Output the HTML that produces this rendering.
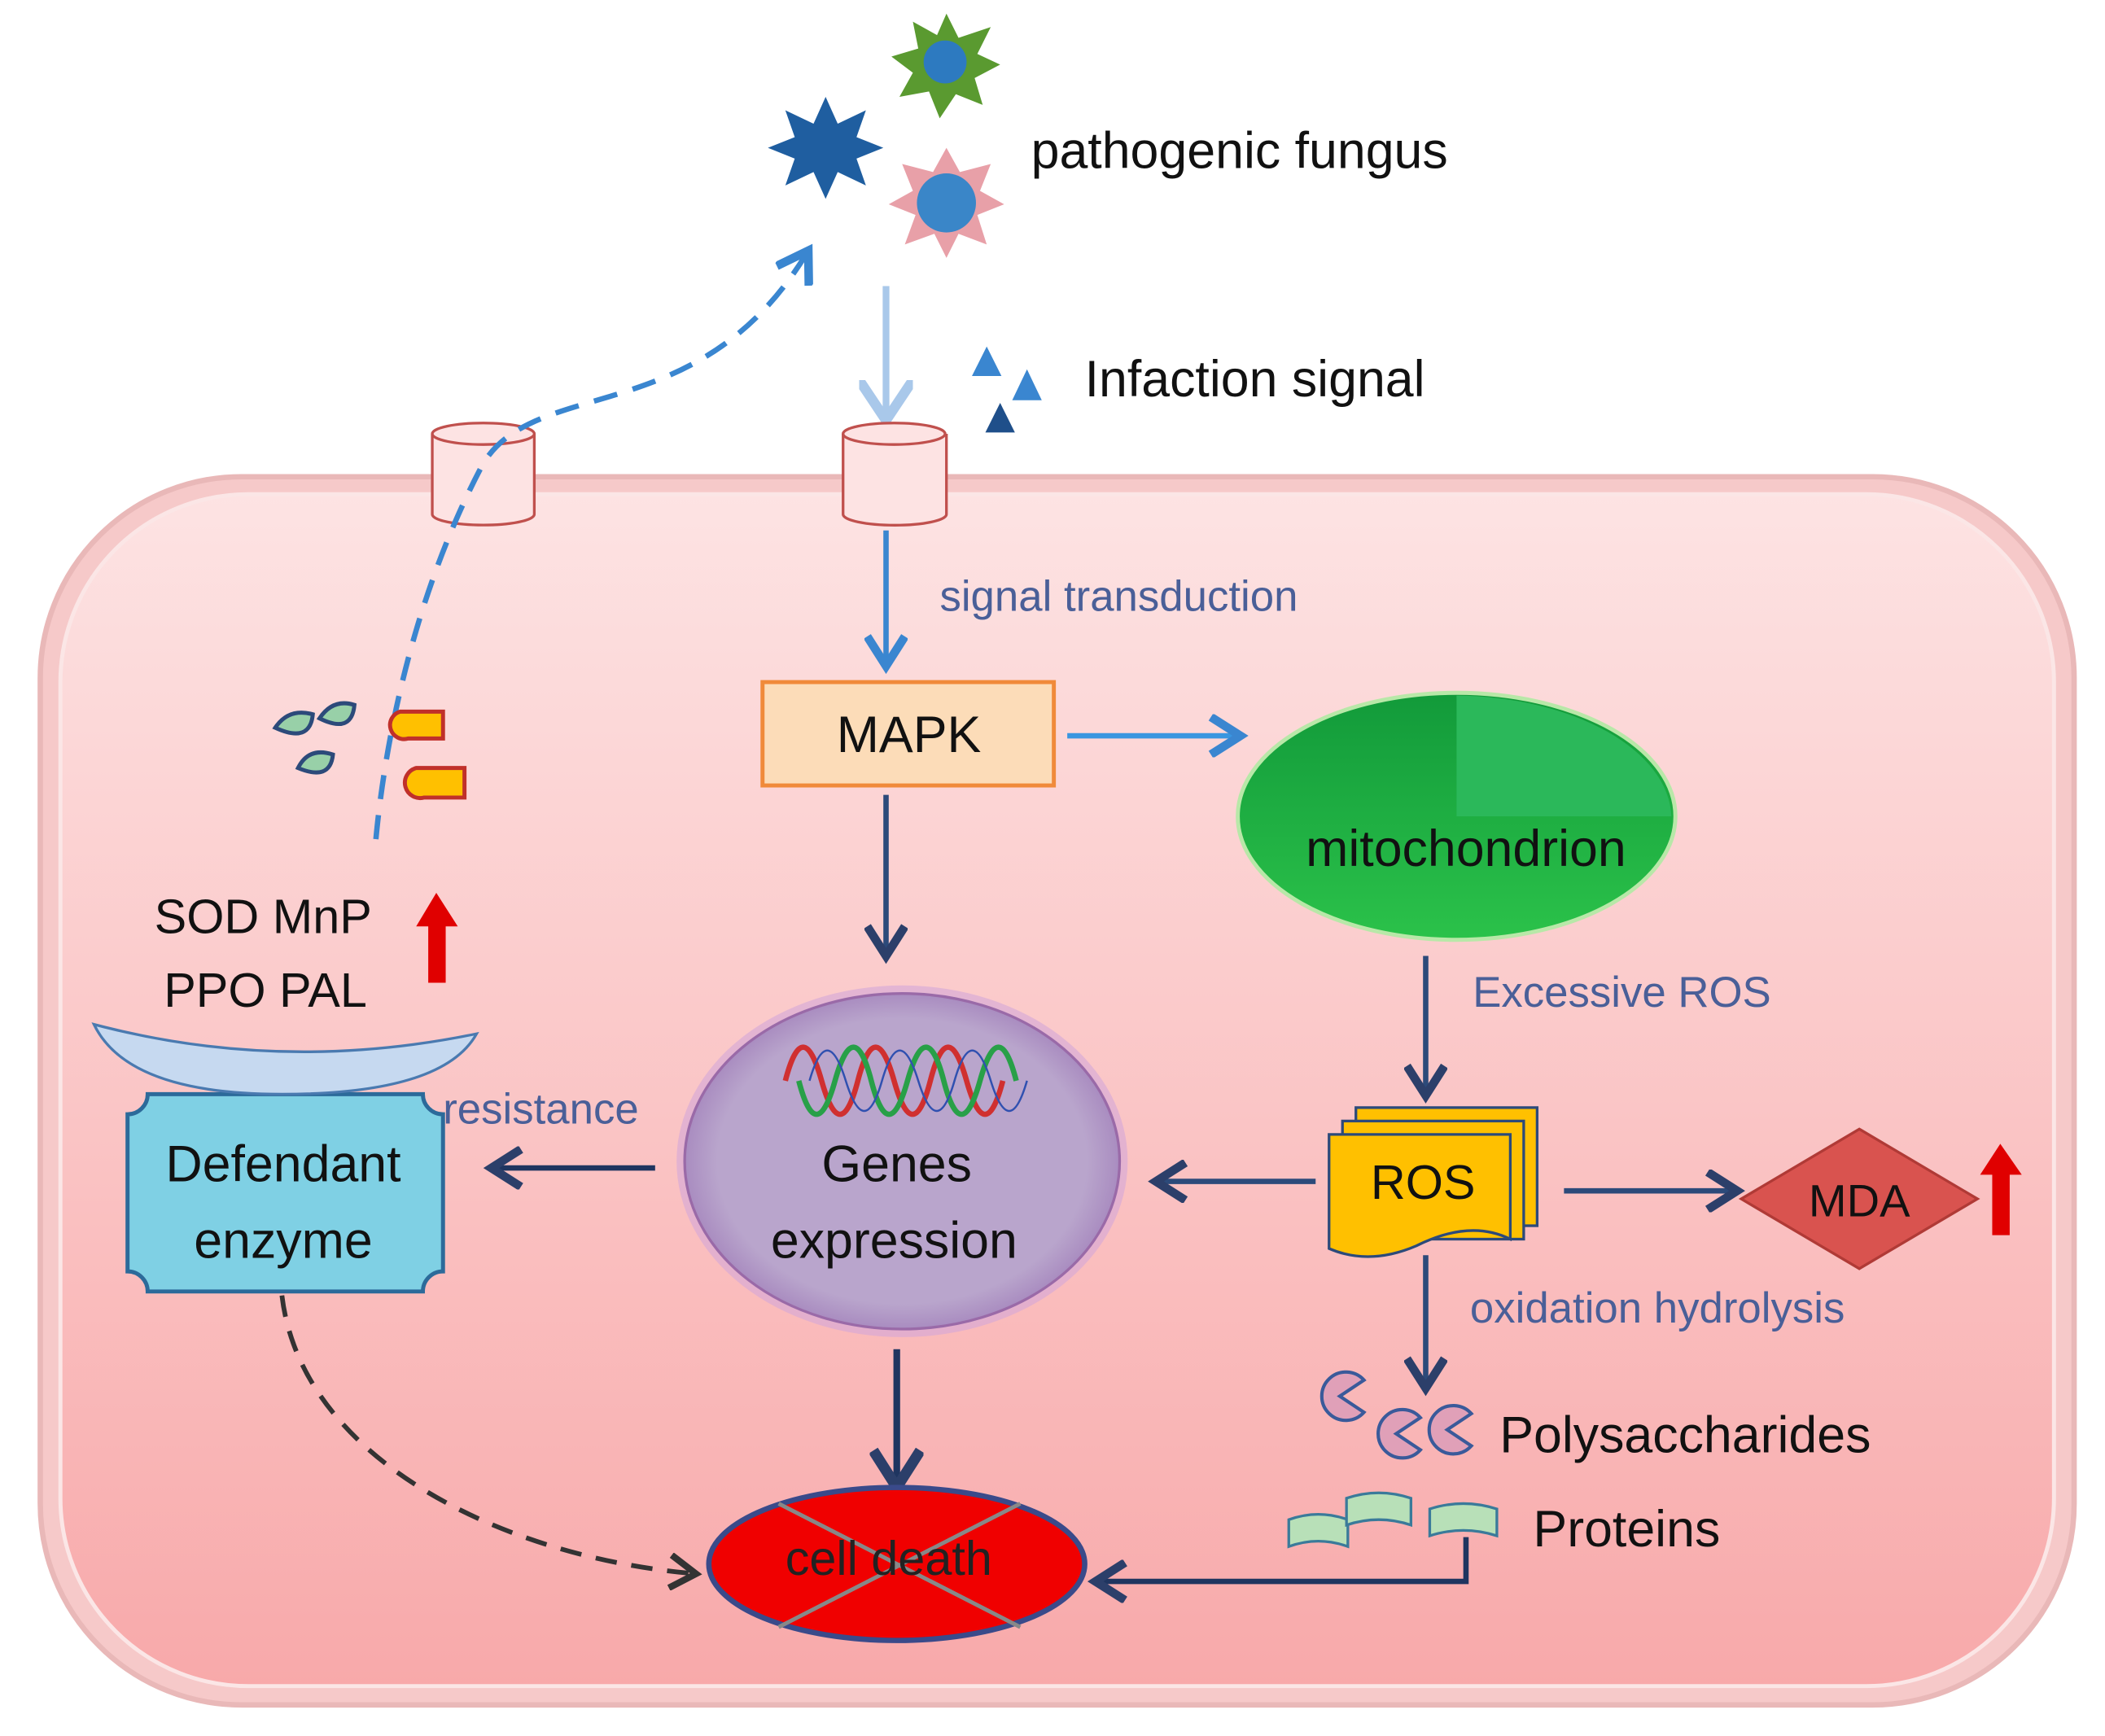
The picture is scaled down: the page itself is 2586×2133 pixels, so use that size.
<!DOCTYPE html>
<html><head><meta charset="utf-8"><style>
html,body{margin:0;padding:0;background:#fff}
svg{display:block}
text{font-family:"Liberation Sans","DejaVu Sans",sans-serif}
</style></head><body>
<svg width="2586" height="2133" viewBox="0 0 1568 1293" xmlns="http://www.w3.org/2000/svg">
<defs>
<linearGradient id="cell" x1="0" y1="0" x2="0" y2="1">
<stop offset="0" stop-color="#fde3e3"/><stop offset="1" stop-color="#f8a9aa"/></linearGradient>
<linearGradient id="mito" x1="0" y1="0" x2="0" y2="1">
<stop offset="0" stop-color="#129a3a"/><stop offset="1" stop-color="#2bc24a"/></linearGradient>
<radialGradient id="genes" cx="0.5" cy="0.5" r="0.5">
<stop offset="0.85" stop-color="#b9a5cc"/><stop offset="1" stop-color="#a98cc0"/></radialGradient>
<marker id="ab" markerWidth="8" markerHeight="8" refX="5" refY="4" orient="auto" markerUnits="strokeWidth">
<path d="M0,0 L6,4 L0,8" fill="none" stroke="#a9c8ea" stroke-width="1.5"/></marker>
<marker id="ad" markerWidth="8" markerHeight="8" refX="5" refY="4" orient="auto" markerUnits="strokeWidth">
<path d="M0.5,0.5 L6,4 L0.5,7.5" fill="none" stroke="#2c3f6a" stroke-width="1.6"/></marker>
<marker id="al" markerWidth="8" markerHeight="8" refX="5" refY="4" orient="auto" markerUnits="strokeWidth">
<path d="M0.5,0.5 L6,4 L0.5,7.5" fill="none" stroke="#3a86d0" stroke-width="1.6"/></marker>
<marker id="ak" markerWidth="8" markerHeight="8" refX="5" refY="4" orient="auto" markerUnits="strokeWidth">
<path d="M0.5,0.5 L6,4 L0.5,7.5" fill="none" stroke="#333" stroke-width="1.4"/></marker>
</defs>

<rect x="30" y="355" width="1515" height="915" rx="150" fill="#f6c9c9" stroke="#e9b8b8" stroke-width="4"/>
<rect x="45" y="368" width="1485" height="888" rx="140" fill="url(#cell)" stroke="#fbe6e6" stroke-width="3"/>

<g>
<polygon points="615,72 624,92 645,82 638,102 658,110 638,118 645,138 624,128 615,148 606,128 585,138 592,118 572,110 592,102 585,82 606,92" fill="#1f5ea0"/>
<polygon points="705,10 714,28 738,20 728,40 745,48 726,58 732,78 712,70 700,88 692,68 670,72 680,54 664,42 684,36 680,16 698,26" fill="#5a9a30"/>
<circle cx="704" cy="46" r="16" fill="#2d7ac0"/>
<polygon points="705,110 715,128 738,122 730,142 748,152 728,160 735,182 714,174 705,192 696,174 674,182 682,160 662,152 680,142 672,122 695,128" fill="#e8a0a8"/>
<circle cx="705" cy="151" r="22" fill="#3a86c8"/>
</g>
<text x="768" y="125" font-size="38" fill="#111">pathogenic fungus</text>

<polygon points="735,258 724,280 746,280" fill="#3a86d0"/>
<polygon points="765,275 754,298 776,298" fill="#3a86d0"/>
<polygon points="745,300 734,322 756,322" fill="#1f4f8a"/>
<text x="808" y="295" font-size="38" fill="#111">Infaction signal</text>
<line x1="660" y1="213" x2="660" y2="308" stroke="#a9c8ea" stroke-width="5" marker-end="url(#ab)"/>

<g fill="#fde3e3" stroke="#c0504d" stroke-width="2">
<path d="M322,323 v60 a38,8 0 0 0 76,0 v-60"/>
<ellipse cx="360" cy="323" rx="38" ry="8"/>
<path d="M628,323 v60 a38,8 0 0 0 77,0 v-60"/>
<ellipse cx="666" cy="323" rx="38" ry="8"/>
</g>

<path d="M280,625 C290,520 320,420 360,345 C400,280 520,320 600,190" fill="none" stroke="#3a86d0" stroke-width="4" stroke-dasharray="18,12" marker-end="url(#al)"/>

<line x1="660" y1="395" x2="660" y2="492" stroke="#3a86d0" stroke-width="4" marker-end="url(#al)"/>
<text x="700" y="455" font-size="32" fill="#4a5f98">signal transduction</text>

<rect x="568" y="508" width="217" height="77" fill="#fcdcb8" stroke="#f08a3a" stroke-width="3"/>
<text x="677" y="560" font-size="38" text-anchor="middle" fill="#111">MAPK</text>
<line x1="795" y1="548" x2="920" y2="548" stroke="#3a96e0" stroke-width="4" marker-end="url(#al)"/>

<ellipse cx="1085" cy="608" rx="163" ry="92" fill="url(#mito)" stroke="#b8e8a8" stroke-width="3"/>
<path d="M1085,518 L1085,608 L1245,608 A163,92 0 0 0 1085,518 Z" fill="#2bb85a"/>
<text x="1092" y="645" font-size="38" text-anchor="middle" fill="#111">mitochondrion</text>

<line x1="660" y1="592" x2="660" y2="708" stroke="#2c4a7a" stroke-width="4" marker-end="url(#ad)"/>
<line x1="1062" y1="712" x2="1062" y2="812" stroke="#2c4a7a" stroke-width="4" marker-end="url(#ad)"/>
<text x="1097" y="750" font-size="32" fill="#4a5f98">Excessive ROS</text>

<ellipse cx="672" cy="865" rx="168" ry="131" fill="#d3a7d8" opacity="0.6"/>
<ellipse cx="672" cy="865" rx="162" ry="125" fill="url(#genes)" stroke="#9a6aa8" stroke-width="2"/>
<g fill="none" stroke-width="4">
<path d="M585,805 q13,-50 27,0 t27,0 t27,0 t27,0 t27,0 t27,0" stroke="#d03030"/>
<path d="M585,805 q13,50 27,0 t27,0 t27,0 t27,0 t27,0 t27,0" stroke="#28a048" transform="translate(10,0)"/>
<path d="M585,805 q13,-45 27,0 t27,0 t27,0 t27,0 t27,0 t27,0" stroke="#3050b0" stroke-width="1.5" transform="translate(18,0)"/>
</g>
<text x="668" y="880" font-size="38" text-anchor="middle" fill="#111">Genes</text>
<text x="666" y="937" font-size="38" text-anchor="middle" fill="#111">expression</text>

<g stroke="#2c4a7a" stroke-width="2" fill="#ffc000">
<rect x="1010" y="825" width="135" height="88"/>
<rect x="1000" y="835" width="135" height="88"/>
<path d="M990,845 h135 v78 q-30,-15 -70,5 q-35,15 -65,2 z"/>
</g>
<text x="1060" y="893" font-size="36" text-anchor="middle" fill="#111">ROS</text>
<line x1="980" y1="880" x2="865" y2="880" stroke="#2c4a7a" stroke-width="4" marker-end="url(#ad)"/>
<line x1="1165" y1="887" x2="1290" y2="887" stroke="#2c4a7a" stroke-width="4" marker-end="url(#ad)"/>

<polygon points="1297,893 1385,841 1473,893 1385,945" fill="#d9534f" stroke="#b03a36" stroke-width="2"/>
<text x="1385" y="906" font-size="34" text-anchor="middle" fill="#111">MDA</text>
<polygon points="1484,920 1497,920 1497,875 1506,875 1490,852 1475,875 1484,875" fill="#e00000"/>

<line x1="1062" y1="935" x2="1062" y2="1030" stroke="#2c4a7a" stroke-width="4" marker-end="url(#ad)"/>
<text x="1095" y="985" font-size="32" fill="#4a5f98">oxidation hydrolysis</text>

<g fill="#e0a0b8" stroke="#3a5a9a" stroke-width="2.5">
<path d="M998,1040 L1016,1028 A18,18 0 1 0 1016,1052 Z"/>
<path d="M1040,1068 L1058,1056 A18,18 0 1 0 1058,1080 Z"/>
<path d="M1078,1065 L1096,1053 A18,18 0 1 0 1096,1077 Z"/>
</g>
<text x="1117" y="1082" font-size="38" fill="#111">Polysaccharides</text>
<g fill="#b8e0b8" stroke="#3a7a9a" stroke-width="2">
<path d="M960,1132 q22,-8 44,0 v20 q-22,-8 -44,0 z"/>
<path d="M1003,1116 q24,-8 48,0 v20 q-24,-8 -48,0 z"/>
<path d="M1065,1124 q25,-8 50,0 v20 q-25,-8 -50,0 z"/>
</g>
<text x="1142" y="1152" font-size="38" fill="#111">Proteins</text>
<path d="M1092,1145 V1178 H820" fill="none" stroke="#1f3560" stroke-width="4" marker-end="url(#ad)"/>

<line x1="668" y1="1005" x2="668" y2="1103" stroke="#1f3560" stroke-width="5" marker-end="url(#ad)"/>
<ellipse cx="668" cy="1165" rx="140" ry="57" fill="#f00000" stroke="#3a4a8a" stroke-width="4"/>
<line x1="580" y1="1120" x2="760" y2="1212" stroke="#888" stroke-width="3"/>
<line x1="760" y1="1120" x2="580" y2="1212" stroke="#888" stroke-width="3"/>
<text x="662" y="1173" font-size="36" text-anchor="middle" fill="#222">cell death</text>

<line x1="488" y1="870" x2="370" y2="870" stroke="#1f3560" stroke-width="4" marker-end="url(#ad)"/>
<text x="330" y="837" font-size="32" fill="#4a5f98">resistance</text>
<path d="M110,815 H315 a15,15 0 0 0 15,15 V947 a15,15 0 0 0 -15,15 H110 a15,15 0 0 0 -15,-15 V830 a15,15 0 0 0 15,-15 z" fill="#7fd0e4" stroke="#2c6a9a" stroke-width="3"/>
<text x="211" y="880" font-size="38" text-anchor="middle" fill="#111">Defendant</text>
<text x="211" y="937" font-size="38" text-anchor="middle" fill="#111">enzyme</text>
<path d="M70,763 Q210,800 355,770 Q330,815 210,815 Q95,815 70,763 z" fill="#c6d9f0" stroke="#4a7ab0" stroke-width="2"/>
<text x="115" y="695" font-size="36" fill="#111">SOD MnP</text>
<text x="122" y="750" font-size="36" fill="#111">PPO  PAL</text>
<polygon points="319,732 332,732 332,690 341,690 325,665 310,690 319,690" fill="#e00000"/>
<path d="M210,965 C225,1090 380,1160 515,1172" fill="none" stroke="#333" stroke-width="3.5" stroke-dasharray="16,11" marker-end="url(#ak)"/>

<g fill="#98d0a8" stroke="#2c4a7a" stroke-width="3">
<path d="M205,542 q10,-15 28,-10 q-2,22 -28,10 z"/>
<path d="M238,535 q10,-15 26,-10 q-2,22 -26,10 z"/>
<path d="M222,572 q8,-16 26,-10 q-2,20 -26,10 z"/>
</g>
<g fill="#ffc000" stroke="#c0302a" stroke-width="3">
<path d="M298,530 h32 v20 h-26 a10,10 0 0 1 -6,-20 z"/>
<path d="M310,572 h36 v22 h-30 a11,11 0 0 1 -6,-22 z"/>
</g>
</svg>
</body></html>
